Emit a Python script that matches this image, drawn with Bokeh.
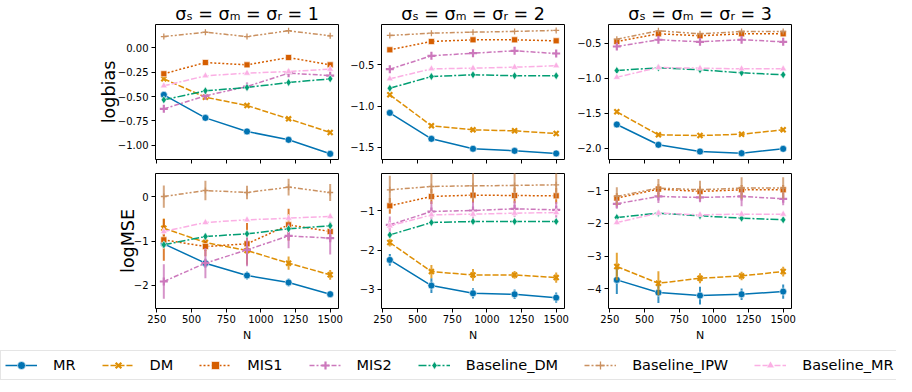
from bokeh.plotting import figure
from bokeh.layouts import column, row
from bokeh.models import Range1d, FixedTicker, Legend, LegendItem, Title
from bokeh.embed import file_html
from bokeh.resources import INLINE

# ---------------- data ----------------
methods = ["MR", "DM", "MIS1", "MIS2", "Baseline_DM", "Baseline_IPW", "Baseline_MR"]
N = [300, 600, 900, 1200, 1500]

titles = ["σₛ = σₘ = σᵣ = 1", "σₛ = σₘ = σᵣ = 2", "σₛ = σₘ = σᵣ = 3"]

bias_s1 = {
    "MR": [-0.483, -0.718, -0.857, -0.942, -1.085],
    "DM": [-0.320, -0.507, -0.592, -0.728, -0.867],
    "MIS1": [-0.268, -0.153, -0.177, -0.102, -0.177],
    "MIS2": [-0.626, -0.493, -0.398, -0.262, -0.286],
    "Baseline_DM": [-0.534, -0.442, -0.408, -0.357, -0.320],
    "Baseline_IPW": [0.112, 0.156, 0.112, 0.171, 0.119],
    "Baseline_MR": [-0.391, -0.289, -0.262, -0.245, -0.221],
}
bias_s2 = {
    "MR": [-1.083, -1.398, -1.519, -1.544, -1.576],
    "DM": [-0.864, -1.240, -1.289, -1.301, -1.334],
    "MIS1": [-0.318, -0.217, -0.197, -0.197, -0.209],
    "MIS2": [-0.553, -0.391, -0.359, -0.330, -0.363],
    "Baseline_DM": [-0.784, -0.642, -0.621, -0.633, -0.633],
    "Baseline_IPW": [-0.144, -0.116, -0.104, -0.095, -0.083],
    "Baseline_MR": [-0.670, -0.549, -0.541, -0.529, -0.512],
}
bias_s3 = {
    "MR": [-1.661, -1.951, -2.047, -2.071, -2.009],
    "DM": [-1.480, -1.809, -1.819, -1.800, -1.737],
    "MIS1": [-0.476, -0.366, -0.394, -0.366, -0.366],
    "MIS2": [-0.547, -0.451, -0.480, -0.451, -0.480],
    "Baseline_DM": [-0.890, -0.851, -0.880, -0.923, -0.951],
    "Baseline_IPW": [-0.443, -0.323, -0.366, -0.333, -0.333],
    "Baseline_MR": [-0.986, -0.847, -0.857, -0.866, -0.866],
}
mse_s1 = {
    "MR": [-1.064, -1.498, -1.775, -1.933, -2.195],
    "DM": [-0.712, -1.034, -1.213, -1.498, -1.760],
    "MIS1": [-0.974, -1.124, -1.064, -0.637, -0.787],
    "MIS2": [-1.910, -1.498, -1.199, -0.884, -0.936],
    "Baseline_DM": [-1.086, -0.899, -0.839, -0.727, -0.659],
    "Baseline_IPW": [0.000, 0.135, 0.090, 0.210, 0.090],
    "Baseline_MR": [-0.787, -0.584, -0.524, -0.487, -0.449],
}
mse_s1_err = {
    "MR": [0.04, 0.10, 0.09, 0.09, 0.07],
    "DM": [0.22, 0.19, 0.20, 0.15, 0.11],
    "MIS1": [0.47, 0.22, 0.47, 0.36, 0.20],
    "MIS2": [0.39, 0.34, 0.37, 0.28, 0.37],
    "Baseline_DM": [0.07, 0.06, 0.05, 0.05, 0.05],
    "Baseline_IPW": [0.25, 0.22, 0.15, 0.19, 0.19],
    "Baseline_MR": [0.07, 0.05, 0.05, 0.05, 0.05],
}
mse_s2 = {
    "MR": [-2.251, -2.906, -3.102, -3.128, -3.213],
    "DM": [-1.809, -2.549, -2.634, -2.634, -2.702],
    "MIS1": [-0.872, -0.634, -0.600, -0.609, -0.617],
    "MIS2": [-1.357, -1.017, -0.991, -0.949, -0.974],
    "Baseline_DM": [-1.613, -1.298, -1.272, -1.272, -1.272],
    "Baseline_IPW": [-0.464, -0.379, -0.362, -0.353, -0.336],
    "Baseline_MR": [-1.383, -1.102, -1.085, -1.060, -1.043],
}
mse_s2_err = {
    "MR": [0.15, 0.19, 0.13, 0.12, 0.13],
    "DM": [0.10, 0.17, 0.15, 0.10, 0.13],
    "MIS1": [0.20, 0.19, 0.20, 0.20, 0.20],
    "MIS2": [0.21, 0.26, 0.23, 0.20, 0.20],
    "Baseline_DM": [0.05, 0.05, 0.05, 0.05, 0.05],
    "Baseline_IPW": [0.36, 0.34, 0.38, 0.34, 0.33],
    "Baseline_MR": [0.15, 0.08, 0.08, 0.08, 0.08],
}
mse_s3 = {
    "MR": [-3.733, -4.122, -4.214, -4.173, -4.091],
    "DM": [-3.323, -3.835, -3.682, -3.610, -3.477],
    "MIS1": [-1.225, -0.949, -1.020, -0.969, -0.969],
    "MIS2": [-1.399, -1.174, -1.205, -1.174, -1.246],
    "Baseline_DM": [-1.819, -1.686, -1.768, -1.839, -1.890],
    "Baseline_IPW": [-1.174, -0.918, -0.969, -0.918, -0.918],
    "Baseline_MR": [-1.972, -1.686, -1.737, -1.716, -1.716],
}
mse_s3_err = {
    "MR": [0.43, 0.32, 0.27, 0.18, 0.22],
    "DM": [0.42, 0.37, 0.15, 0.13, 0.15],
    "MIS1": [0.15, 0.15, 0.15, 0.15, 0.15],
    "MIS2": [0.15, 0.20, 0.15, 0.30, 0.20],
    "Baseline_DM": [0.05, 0.05, 0.05, 0.05, 0.05],
    "Baseline_IPW": [0.28, 0.28, 0.28, 0.33, 0.33],
    "Baseline_MR": [0.08, 0.05, 0.05, 0.05, 0.05],
}

x_ticks = [250, 500, 750, 1000, 1250, 1500]
bias_ticks = [
    ([0.0, -0.25, -0.5, -0.75, -1.0], ["0.00", "−0.25", "−0.50", "−0.75", "−1.00"]),
    ([-0.5, -1.0, -1.5], ["−0.5", "−1.0", "−1.5"]),
    ([-0.5, -1.0, -1.5, -2.0], ["−0.5", "−1.0", "−1.5", "−2.0"]),
]
mse_ticks = [
    ([0, -1, -2], ["0", "−1", "−2"]),
    ([-1, -2, -3], ["−1", "−2", "−3"]),
    ([-1, -2, -3, -4], ["−1", "−2", "−3", "−4"]),
]

# ---------------- styles ----------------
colors = {
    "MR": "#0173b2", "DM": "#de8f05", "MIS1": "#d55e00", "MIS2": "#cc78bc",
    "Baseline_DM": "#029e73", "Baseline_IPW": "#ca9161", "Baseline_MR": "#fbafe4",
}
dashes = {
    "MR": "solid", "DM": "6 2", "MIS1": "2 2", "MIS2": "5 2 2 2",
    "Baseline_DM": "8 2 2 2", "Baseline_IPW": "5 2 2 2 2 2", "Baseline_MR": "6 2 6 2 2 2",
}
markers = {
    "MR": ("circle", 7, 0.6, "white"),
    "DM": ("x", 7, 2.2, None),
    "MIS1": ("square", 6, 0.6, "white"),
    "MIS2": ("cross", 8, 2.2, None),
    "Baseline_DM": ("diamond", 8, 0.6, "white"),
    "Baseline_IPW": ("cross", 6, 1.3, None),
    "Baseline_MR": ("triangle", 7, 0.6, "white"),
}

FONT = "DejaVu Sans"
FW, FH = 183, 135
x_range_vals = (240, 1560)
y_ranges = [(-1.143, 0.235), (-1.649, -0.011), (-2.161, -0.233),
            (-2.517, 0.517), (-3.49, -0.048), (-4.61, -0.47)]
left_borders = [155, 35, 36]
right_borders = [8, 8, 10]
ylabel_standoff = [-4, -7]


def add_marker(p, name, xs, ys):
    m, s, lw, ec = markers[name]
    c = colors[name]
    if ec is None:
        return p.scatter(xs, ys, marker=m, size=s, line_color=c, line_width=lw)
    return p.scatter(xs, ys, marker=m, size=s, fill_color=c, line_color=ec, line_width=lw)


def make_panel(col, rowi, data, err, ticks):
    yr = y_ranges[rowi * 3 + col]
    p = figure(frame_width=FW, frame_height=FH, output_backend="svg", toolbar_location=None,
               x_range=Range1d(*x_range_vals), y_range=Range1d(*yr),
               min_border_left=left_borders[col], min_border_right=right_borders[col],
               min_border_top=20 if rowi == 0 else 7,
               min_border_bottom=7 if rowi == 0 else 40)
    p.grid.visible = False
    p.outline_line_color = "black"
    p.outline_line_width = 1
    if rowi == 0:
        p.add_layout(Title(text=titles[col], align="center", text_font=FONT,
                           text_font_size="17.5px", text_font_style="normal",
                           standoff=2, text_color="black"), "above")
    for ax in (p.xaxis[0], p.yaxis[0]):
        ax.axis_line_color = None
        ax.major_tick_line_color = "black"
        ax.major_tick_out = 4
        ax.major_tick_in = 0
        ax.minor_tick_line_color = None
        ax.major_label_text_font = FONT
        ax.major_label_text_font_size = "10px"
        ax.major_label_text_color = "black"
        ax.axis_label_text_font = FONT
        ax.axis_label_text_font_style = "normal"
        ax.axis_label_text_color = "black"
    p.xaxis.ticker = FixedTicker(ticks=x_ticks)
    if rowi == 0:
        p.xaxis.major_label_text_font_size = "0px"
        p.xaxis.major_label_text_color = None
        p.xaxis.major_label_standoff = 0
    else:
        p.xaxis.major_label_standoff = 2
        p.xaxis.axis_label = "N"
        p.xaxis.axis_label_text_font_size = "11px"
        p.xaxis.axis_label_standoff = 3
    tv, tl = ticks
    p.yaxis.ticker = FixedTicker(ticks=tv)
    p.yaxis.major_label_overrides = {v: l for v, l in zip(tv, tl)}
    p.yaxis.major_label_standoff = 3
    if col == 0:
        p.yaxis.axis_label = "logbias" if rowi == 0 else "logMSE"
        p.yaxis.axis_label_text_font_size = "17.5px"
        p.yaxis.axis_label_standoff = ylabel_standoff[rowi]

    for name in methods:
        ys = data[name]
        c = colors[name]
        if err is not None:
            e = err[name]
            p.segment(x0=N, y0=[y - d for y, d in zip(ys, e)], x1=N,
                      y1=[y + d for y, d in zip(ys, e)], line_color=c,
                      line_width=2, line_alpha=0.8)
        p.line(N, ys, line_color=c, line_width=1.5, line_dash=dashes[name])
        add_marker(p, name, N, ys)
    return p


top = [make_panel(i, 0, d, None, t) for i, (d, t) in enumerate(zip([bias_s1, bias_s2, bias_s3], bias_ticks))]
bot = [make_panel(i, 1, d, e, t) for i, (d, e, t) in enumerate(zip([mse_s1, mse_s2, mse_s3],
                                                               [mse_s1_err, mse_s2_err, mse_s3_err], mse_ticks))]

# legend figure
lg = figure(frame_width=896, frame_height=32, output_backend="svg", toolbar_location=None,
            x_range=Range1d(0, 1), y_range=Range1d(0, 1), min_border=0,
            x_axis_type=None, y_axis_type=None, outline_line_color=None)
lg.grid.visible = False
items = []
for name in methods:
    c = colors[name]
    lr = lg.line([-10, -9], [-10, -9], line_color=c, line_width=1.5, line_dash=dashes[name])
    sr = add_marker(lg, name, [-10], [-10])
    items.append(LegendItem(label=name, renderers=[lr, sr]))
legend = Legend(items=items, orientation="horizontal", location=(0, 0),
                label_text_font=FONT, label_text_font_size="14.5px", label_text_color="black",
                glyph_width=32, glyph_height=20, label_height=20, label_standoff=16,
                spacing=26, padding=4, margin=0, border_line_color="#cccccc",
                border_line_width=1, background_fill_alpha=1.0)
lg.add_layout(legend, "center")

layout = column(row(*top), row(*bot), lg)
open("out.html", "w").write(file_html(layout, INLINE))
